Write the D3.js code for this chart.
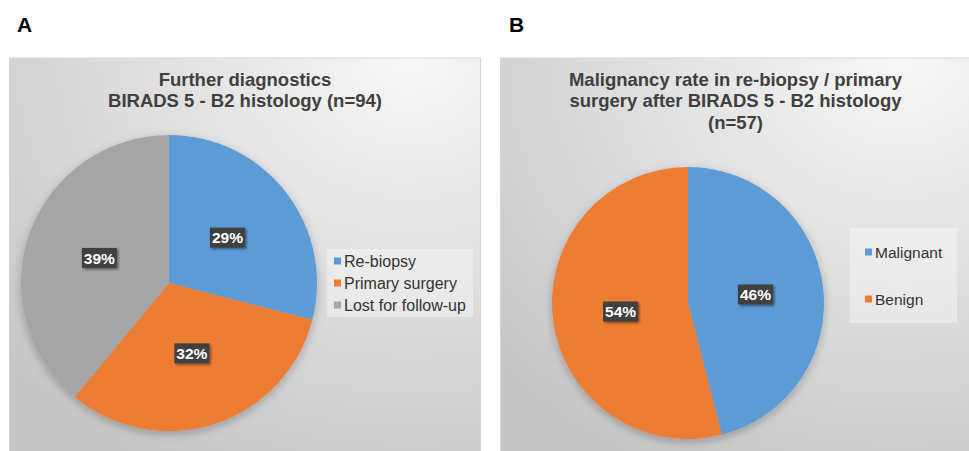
<!DOCTYPE html>
<html>
<head>
<meta charset="utf-8">
<script src="https://cdn.jsdelivr.net/npm/d3@7"></script>
<style>
  body { margin: 0; background: #fff; }
  svg { font-family: "Liberation Sans", Arial, sans-serif; display: block; }
</style>
</head>
<body>
<svg id="chart" width="969" height="451"></svg>
<script>
// panel A data
var catsA = ["Re-biopsy", "Primary surgery", "Lost for follow-up"];
var valsA = [29, 32, 39];
var titleA = ["Further diagnostics", "BIRADS 5 - B2 histology (n=94)"];

// panel B data
var catsB = ["Malignant", "Benign"];
var valsB = [46, 54];
var titleB = ["Malignancy rate in re-biopsy / primary", "surgery after BIRADS 5 - B2 histology", "(n=57)"];

var colors = ["#5b9bd5", "#ed7d31", "#a5a5a5"];

var svg = d3.select("#chart");
var defs = svg.append("defs");

var grad = defs.append("radialGradient")
  .attr("id", "bg")
  .attr("cx", "85%").attr("cy", "0%").attr("r", "115%")
  .attr("gradientUnits", "objectBoundingBox");
grad.append("stop").attr("offset", "0%").attr("stop-color", "#f7f7f7");
grad.append("stop").attr("offset", "100%").attr("stop-color", "#c6c6c6");

var pieShadow = defs.append("filter").attr("id", "pieShadow")
  .attr("x", "-20%").attr("y", "-20%").attr("width", "140%").attr("height", "140%");
pieShadow.append("feDropShadow").attr("dx", 0).attr("dy", 3).attr("stdDeviation", 5)
  .attr("flood-color", "#000").attr("flood-opacity", 0.25);

var lblShadow = defs.append("filter").attr("id", "lblShadow")
  .attr("x", "-30%").attr("y", "-30%").attr("width", "160%").attr("height", "160%");
lblShadow.append("feDropShadow").attr("dx", 1.5).attr("dy", 1.5).attr("stdDeviation", 1)
  .attr("flood-color", "#000").attr("flood-opacity", 0.45);

function drawPanel(opt) {
  var g = svg.append("g");

  g.append("text")
    .attr("x", opt.letterX).attr("y", 32)
    .attr("font-size", 21).attr("font-weight", "bold").attr("fill", "#000")
    .text(opt.letter);

  g.append("rect")
    .attr("x", opt.x).attr("y", 58)
    .attr("width", opt.w).attr("height", 400)
    .attr("fill", "url(#bg)")
    .attr("stroke", "#d4d4d4");

  var cx = opt.x + opt.w / 2;
  g.append("g").selectAll("text")
    .data(opt.title)
    .enter().append("text")
    .attr("x", cx)
    .attr("y", function(d, i) { return 85.5 + i * 21.5; })
    .attr("text-anchor", "middle")
    .attr("font-size", 18.5).attr("font-weight", "bold").attr("fill", "#404040")
    .text(function(d) { return d; });

  var pie = d3.pie().sort(null).value(function(d) { return d; });
  var arcs = pie(opt.values);
  var arc = d3.arc().innerRadius(0).outerRadius(opt.r);

  var pg = g.append("g")
    .attr("transform", "translate(" + opt.pcx + "," + opt.pcy + ")");

  pg.append("g").attr("filter", "url(#pieShadow)")
    .selectAll("path")
    .data(arcs)
    .enter().append("path")
    .attr("d", arc)
    .attr("fill", function(d, i) { return colors[i]; });

  var lbl = pg.selectAll(".lbl")
    .data(arcs)
    .enter().append("g")
    .attr("class", "lbl")
    .attr("transform", function(d) { return "translate(" + arc.centroid(d) + ")"; });

  lbl.append("rect")
    .attr("x", -17.5).attr("y", -10)
    .attr("width", 35).attr("height", 20)
    .attr("fill", "#404040")
    .attr("filter", "url(#lblShadow)");

  lbl.append("text")
    .attr("text-anchor", "middle")
    .attr("dy", "0.36em")
    .attr("font-size", 15.5).attr("font-weight", "bold").attr("fill", "#fff")
    .text(function(d) { return d.data + "%"; });

  // legend
  var lg = g.append("g");
  lg.append("rect")
    .attr("x", opt.lx).attr("y", opt.ly)
    .attr("width", opt.lw).attr("height", opt.lh)
    .attr("fill", "#fff").attr("fill-opacity", 0.35);

  var item = lg.selectAll(".item")
    .data(opt.cats)
    .enter().append("g")
    .attr("class", "item")
    .attr("transform", function(d, i) {
      return "translate(" + (opt.lx + opt.sqx) + "," + (opt.ly + opt.first + i * opt.step) + ")";
    });

  item.append("rect")
    .attr("x", 0).attr("y", -3.5)
    .attr("width", 7).attr("height", 7)
    .attr("fill", function(d, i) { return colors[i]; });

  item.append("text")
    .attr("x", 10).attr("dy", "0.36em")
    .attr("font-size", opt.lfs).attr("fill", "#333")
    .text(function(d) { return d; });
}

drawPanel({
  letter: "A", letterX: 17,
  x: 9.5, w: 471,
  title: titleA,
  values: valsA, cats: catsA,
  pcx: 169, pcy: 283, r: 148,
  lx: 327, ly: 249, lw: 146, lh: 68,
  sqx: 7, first: 12, step: 22, lfs: 16
});

drawPanel({
  letter: "B", letterX: 509,
  x: 500.5, w: 470,
  title: titleB,
  values: valsB, cats: catsB,
  pcx: 688, pcy: 303, r: 136,
  lx: 850, ly: 228, lw: 107, lh: 95,
  sqx: 15, first: 24, step: 47, lfs: 15.5
});
</script>
</body>
</html>
